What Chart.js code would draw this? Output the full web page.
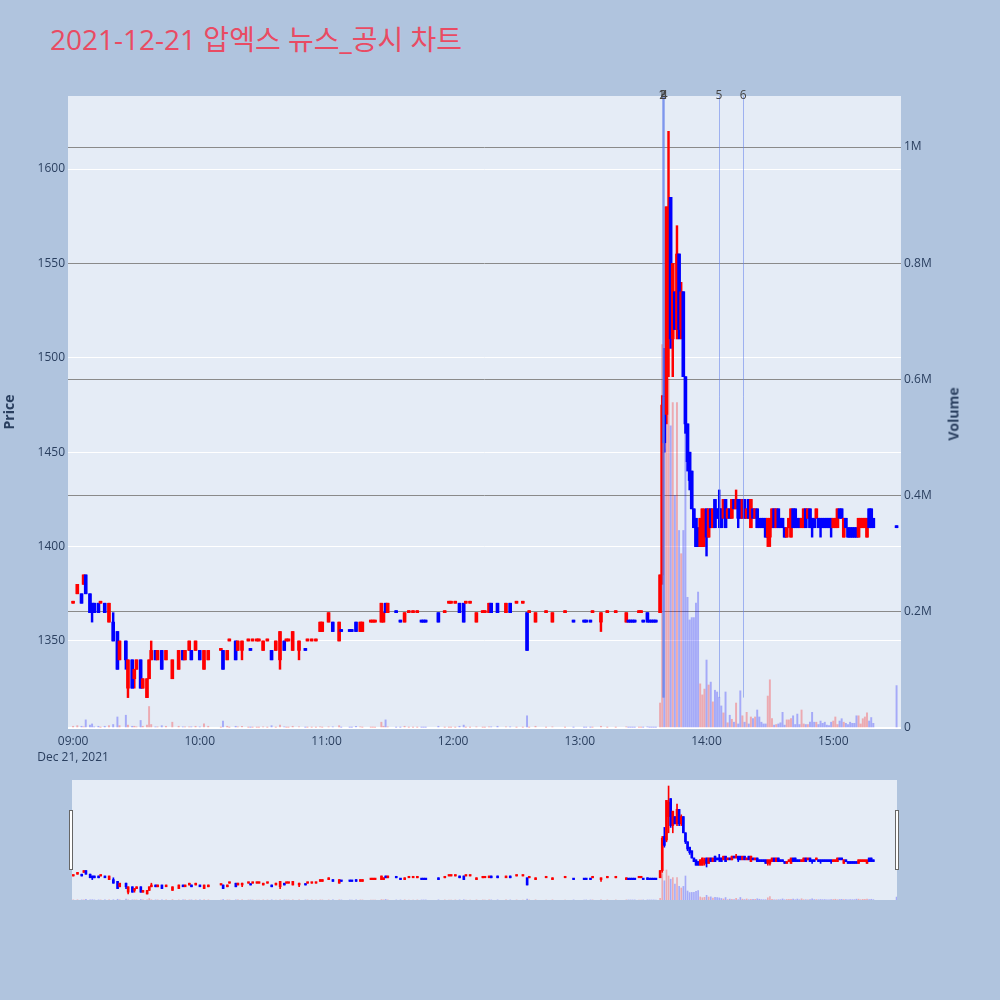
<!DOCTYPE html>
<html>
<head>
<meta charset="utf-8">
<script src="https://cdn.jsdelivr.net/npm/chart.js"></script>
<style>
  body { margin: 0; background: #b0c4de; width: 1000px; height: 1000px; position: relative; overflow: hidden;
         font-family: "Open Sans", "Noto Sans CJK KR", sans-serif; }
  #title { position: absolute; left: 50px; top: 22px; font-size: 28px; line-height: 34px; color: #e94b63; white-space: nowrap; }
  #main { position: absolute; left: 0; top: 0; }
  #slider { position: absolute; left: 72px; top: 780px; }
  .handle { position: absolute; top: 810px; width: 2px; height: 58px; background: #fff; border: 1px solid #666; }
  #volTitle { position: absolute; left: 953px; top: 414px; transform: translate(-50%, -50%) rotate(-90deg);
              font-size: 14px; font-weight: bold; color: #2a3f5f; white-space: nowrap; }
</style>
</head>
<body>
<div id="title">2021-12-21 압엑스 뉴스_공시 차트</div>
<canvas id="main" width="1000" height="770"></canvas>
<canvas id="slider" width="825" height="120"></canvas>
<div class="handle" style="left:69px"></div>
<div class="handle" style="left:895px"></div>
<div id="volTitle">Volume</div>
<script>
// minutes after 09:00
const minutes = [
  0, 2, 4, 5, 6, 8, 9, 10, 12, 13,
  15, 17, 19, 21, 22, 25, 26, 28, 29, 30,
  32, 33, 35, 36, 37, 39, 40, 42, 44, 47,
  50, 52, 53, 55, 56, 58, 60, 62, 64, 70,
  71, 73, 74, 77, 78, 80, 83, 84, 85, 87,
  88, 90, 92, 94, 96, 98, 100, 101, 102, 104,
  107, 110, 111, 113, 115, 117, 118, 121, 123, 126,
  127, 131, 132, 134, 136, 137, 141, 142, 143, 146,
  147, 148, 149, 153, 155, 157, 159, 161, 163, 165,
  166, 167, 173, 176, 178, 179, 181, 183, 185, 186,
  188, 191, 194, 195, 197, 198, 201, 205, 207, 210,
  213, 215, 216, 219, 224, 227, 233, 237, 242, 243,
  245, 246, 250, 253, 257, 262, 263, 264, 265, 266,
  268, 269, 270, 272, 273, 274, 275, 276,
  278, 279, 280, 281, 282, 283, 284, 285, 286, 287,
  288, 289, 290, 291, 292, 293, 294, 295, 296,
  297, 298, 299, 300, 301, 302, 303, 304, 305, 306,
  307, 308, 309, 310, 311, 312, 313, 314, 315, 316,
  317, 318, 319, 320, 321, 322, 323, 324, 325, 326,
  327, 328, 329, 330, 331, 332, 333, 334, 335, 336,
  337, 338, 339, 340, 341, 342, 343, 344, 345, 346,
  347, 348, 349, 350, 351, 352, 353, 354, 355, 356,
  357, 358, 359, 360, 361, 362, 363, 364, 365, 366,
  367, 368, 369, 370, 371, 372, 373, 374, 375, 376,
  377, 378, 379, 390
];

const opens = [
  1370, 1375, 1375, 1380, 1385, 1375, 1370, 1370, 1370, 1370,
  1370, 1360, 1360, 1355, 1340, 1350, 1325, 1340, 1330, 1335,
  1340, 1325, 1320, 1330, 1340, 1345, 1340, 1345, 1340, 1330,
  1335, 1345, 1340, 1345, 1345, 1345, 1345, 1335, 1340, 1345,
  1345, 1340, 1350, 1350, 1345, 1345, 1350, 1345, 1350, 1350,
  1350, 1345, 1350, 1345, 1345, 1340, 1350, 1350, 1350, 1345,
  1345, 1345, 1350, 1350, 1350, 1355, 1355, 1360, 1360, 1350,
  1355, 1355, 1355, 1360, 1355, 1355, 1360, 1360, 1360, 1360,
  1360, 1370, 1365, 1365, 1360, 1360, 1365, 1365, 1365, 1360,
  1360, 1360, 1365, 1365, 1370, 1370, 1370, 1370, 1370, 1370,
  1370, 1360, 1365, 1365, 1365, 1370, 1370, 1365, 1370, 1370,
  1370, 1365, 1365, 1360, 1365, 1360, 1365, 1360, 1360, 1360,
  1360, 1365, 1360, 1365, 1365, 1360, 1360, 1360, 1360, 1360,
  1365, 1365, 1360, 1365, 1360, 1360, 1360, 1360,
  1365, 1385, 1480, 1470, 1535, 1585, 1510, 1535, 1515, 1555,
  1515, 1535, 1490, 1465, 1450, 1440, 1420, 1415, 1410,
  1400, 1400, 1405, 1420, 1405, 1420, 1410, 1425, 1420, 1420,
  1420, 1415, 1425, 1415, 1420, 1415, 1425, 1420, 1425, 1425,
  1415, 1425, 1415, 1425, 1410, 1420, 1415, 1420, 1415, 1415,
  1415, 1415, 1405, 1405, 1410, 1420, 1410, 1420, 1415, 1415,
  1410, 1405, 1410, 1405, 1420, 1420, 1415, 1415, 1410, 1410,
  1420, 1415, 1420, 1415, 1415, 1415, 1415, 1415, 1415, 1415,
  1415, 1415, 1415, 1410, 1410, 1410, 1420, 1420, 1405, 1415,
  1410, 1410, 1410, 1410, 1410, 1405, 1410, 1410, 1410, 1405,
  1420, 1420, 1415, 1410
];

const highs = [
  1370, 1380, 1375, 1385, 1385, 1375, 1370, 1370, 1370, 1370,
  1370, 1370, 1365, 1355, 1350, 1350, 1340, 1340, 1335, 1340,
  1340, 1330, 1330, 1340, 1350, 1345, 1345, 1345, 1345, 1340,
  1345, 1345, 1345, 1350, 1345, 1350, 1345, 1345, 1345, 1345,
  1345, 1345, 1350, 1350, 1350, 1350, 1350, 1345, 1350, 1350,
  1350, 1350, 1350, 1345, 1350, 1355, 1350, 1350, 1350, 1355,
  1350, 1345, 1350, 1350, 1350, 1360, 1360, 1365, 1360, 1360,
  1355, 1355, 1355, 1360, 1360, 1360, 1360, 1360, 1360, 1370,
  1365, 1370, 1370, 1365, 1360, 1365, 1365, 1365, 1365, 1360,
  1360, 1360, 1365, 1365, 1370, 1370, 1370, 1370, 1370, 1370,
  1370, 1365, 1365, 1365, 1370, 1370, 1370, 1370, 1370, 1370,
  1370, 1365, 1365, 1365, 1365, 1365, 1365, 1360, 1360, 1360,
  1360, 1365, 1365, 1365, 1365, 1365, 1360, 1360, 1360, 1360,
  1365, 1365, 1360, 1365, 1360, 1360, 1360, 1360,
  1385, 1480, 1505, 1580, 1620, 1585, 1550, 1535, 1570, 1555,
  1540, 1535, 1490, 1465, 1450, 1440, 1420, 1415, 1410,
  1415, 1420, 1420, 1420, 1420, 1420, 1420, 1425, 1420, 1430,
  1420, 1425, 1425, 1420, 1420, 1425, 1425, 1430, 1425, 1425,
  1425, 1425, 1420, 1425, 1425, 1420, 1420, 1420, 1415, 1415,
  1415, 1415, 1415, 1415, 1420, 1420, 1420, 1420, 1415, 1415,
  1410, 1410, 1415, 1420, 1420, 1420, 1415, 1415, 1415, 1420,
  1420, 1420, 1420, 1415, 1415, 1420, 1415, 1415, 1415, 1415,
  1415, 1415, 1415, 1415, 1415, 1420, 1420, 1420, 1415, 1415,
  1410, 1410, 1410, 1410, 1410, 1415, 1415, 1415, 1415, 1415,
  1420, 1420, 1415, 1410
];

const lows = [
  1370, 1375, 1370, 1380, 1375, 1365, 1360, 1365, 1365, 1370,
  1365, 1360, 1350, 1335, 1340, 1335, 1320, 1325, 1325, 1335,
  1325, 1325, 1320, 1330, 1340, 1340, 1340, 1335, 1340, 1330,
  1335, 1340, 1340, 1345, 1340, 1345, 1340, 1335, 1340, 1345,
  1335, 1340, 1350, 1340, 1345, 1340, 1350, 1345, 1350, 1350,
  1350, 1345, 1350, 1340, 1345, 1335, 1345, 1350, 1350, 1345,
  1340, 1345, 1350, 1350, 1350, 1355, 1355, 1360, 1355, 1350,
  1355, 1355, 1355, 1355, 1355, 1355, 1360, 1360, 1360, 1360,
  1360, 1365, 1365, 1365, 1360, 1360, 1365, 1365, 1365, 1360,
  1360, 1360, 1360, 1365, 1370, 1370, 1370, 1365, 1360, 1370,
  1370, 1360, 1365, 1365, 1365, 1365, 1365, 1365, 1365, 1370,
  1370, 1345, 1365, 1360, 1365, 1360, 1365, 1360, 1360, 1360,
  1360, 1365, 1355, 1365, 1365, 1360, 1360, 1360, 1360, 1360,
  1365, 1365, 1360, 1360, 1360, 1360, 1360, 1360,
  1365, 1380, 1450, 1465, 1490, 1505, 1490, 1515, 1510, 1510,
  1510, 1490, 1460, 1440, 1430, 1420, 1410, 1400, 1400,
  1400, 1400, 1400, 1395, 1405, 1410, 1410, 1410, 1415, 1410,
  1410, 1415, 1410, 1415, 1415, 1415, 1420, 1420, 1410, 1415,
  1415, 1415, 1415, 1415, 1410, 1415, 1415, 1410, 1410, 1410,
  1410, 1405, 1400, 1400, 1410, 1410, 1410, 1410, 1410, 1410,
  1405, 1405, 1410, 1405, 1410, 1410, 1410, 1410, 1410, 1410,
  1410, 1415, 1410, 1405, 1410, 1415, 1410, 1405, 1410, 1410,
  1410, 1410, 1405, 1410, 1410, 1410, 1415, 1415, 1405, 1410,
  1405, 1405, 1405, 1405, 1405, 1405, 1410, 1410, 1410, 1405,
  1410, 1410, 1410, 1410
];

const closes = [
  1370, 1380, 1370, 1385, 1375, 1365, 1365, 1365, 1365, 1370,
  1365, 1370, 1350, 1335, 1350, 1340, 1340, 1325, 1335, 1340,
  1325, 1330, 1330, 1340, 1345, 1340, 1345, 1335, 1345, 1340,
  1345, 1340, 1345, 1350, 1340, 1350, 1340, 1345, 1345, 1345,
  1335, 1345, 1350, 1340, 1350, 1350, 1350, 1345, 1350, 1350,
  1350, 1350, 1350, 1340, 1350, 1355, 1345, 1350, 1350, 1355,
  1350, 1345, 1350, 1350, 1350, 1360, 1360, 1365, 1355, 1360,
  1355, 1355, 1355, 1355, 1360, 1360, 1360, 1360, 1360, 1370,
  1365, 1365, 1370, 1365, 1360, 1365, 1365, 1365, 1365, 1360,
  1360, 1360, 1360, 1365, 1370, 1370, 1370, 1365, 1360, 1370,
  1370, 1365, 1365, 1365, 1370, 1365, 1365, 1370, 1365, 1370,
  1370, 1345, 1365, 1365, 1365, 1365, 1365, 1360, 1360, 1360,
  1360, 1365, 1365, 1365, 1365, 1365, 1360, 1360, 1360, 1360,
  1365, 1365, 1360, 1360, 1360, 1360, 1360, 1360,
  1385, 1475, 1455, 1580, 1575, 1510, 1550, 1515, 1555, 1515,
  1535, 1490, 1465, 1445, 1435, 1420, 1410, 1400, 1400,
  1415, 1420, 1415, 1405, 1420, 1410, 1420, 1410, 1415, 1415,
  1410, 1425, 1410, 1420, 1415, 1425, 1420, 1425, 1415, 1415,
  1425, 1415, 1420, 1415, 1425, 1415, 1420, 1410, 1410, 1410,
  1410, 1405, 1415, 1415, 1420, 1410, 1420, 1410, 1410, 1410,
  1405, 1410, 1415, 1420, 1410, 1410, 1410, 1410, 1415, 1420,
  1410, 1420, 1410, 1410, 1410, 1420, 1410, 1410, 1410, 1410,
  1410, 1410, 1410, 1415, 1415, 1420, 1415, 1415, 1415, 1410,
  1405, 1405, 1405, 1405, 1405, 1415, 1415, 1415, 1415, 1415,
  1410, 1410, 1410, 1410
];

const volumes = [
  3000, 4000, 3000, 2000, 14000, 5000, 7000, 2000, 3000, 1000,
  3000, 4000, 6000, 19000, 4000, 22000, 5000, 3000, 3000, 2000,
  13000, 3000, 5000, 37000, 6000, 2000, 2000, 4000, 3000, 10000,
  3000, 2000, 2000, 2000, 2000, 3000, 2000, 7000, 3000, 1000,
  12000, 3000, 1000, 3000, 2000, 3000, 1000, 1000, 1000, 1000,
  1000, 2000, 1000, 4000, 1000, 5000, 2000, 1000, 1000, 3000,
  2000, 1000, 1000, 1000, 1000, 2000, 1000, 2000, 2000, 4000,
  1000, 1000, 1000, 3000, 2000, 1000, 1000, 1000, 1000, 10000,
  3000, 14000, 2000, 1000, 1000, 3000, 1000, 1000, 1000, 1000,
  1000, 1000, 3000, 1000, 1000, 1000, 1000, 3000, 5000, 1000,
  1000, 2000, 1000, 1000, 2000, 2000, 3000, 2000, 2000, 1000,
  1000, 21000, 1000, 3000, 1000, 2000, 1000, 1000, 1000, 1000,
  1000, 1000, 3000, 1000, 1000, 2000, 1000, 1000, 1000, 1000,
  1000, 1000, 1000, 2000, 1000, 1000, 1000, 1000,
  43000, 660000, 480000, 750000, 600000, 520000, 560000, 400000, 560000, 340000,
  300000, 340000, 600000, 225000, 186000, 190000, 190000, 215000, 234000,
  76000, 57000, 67000, 117000, 74000, 79000, 45000, 65000, 62000, 53000,
  38000, 26000, 62000, 9000, 22000, 15000, 10000, 43000, 7000, 64000,
  21000, 10000, 27000, 7000, 19000, 16000, 19000, 31000, 19000, 10000,
  7000, 7000, 55000, 83000, 16000, 5000, 6000, 7000, 9000, 27000,
  5000, 14000, 14000, 16000, 21000, 6000, 24000, 6000, 31000, 7000,
  6000, 6000, 10000, 27000, 10000, 10000, 6000, 12000, 8000, 10000,
  5000, 4000, 10000, 12000, 19000, 6000, 12000, 16000, 10000, 8000,
  6000, 10000, 8000, 8000, 21000, 21000, 7000, 16000, 19000, 26000,
  12000, 18000, 8000, 73000
];

const timeLabels = ["09:00", "10:00", "11:00", "12:00", "13:00", "14:00", "15:00"];
const timeTicks = [0, 60, 120, 180, 240, 300, 360];
const dateLabel = "Dec 21, 2021";
const priceTicks = [1350, 1400, 1450, 1500, 1550, 1600];
const volumeTicks = [0, 200000, 400000, 600000, 800000, 1000000];
const volumeTickLabels = ["0", "0.2M", "0.4M", "0.6M", "0.8M", "1M"];
const newsTimes = [278.8, 279.2, 279.6, 280.0, 305.9, 317.3];
const newsLabels = ["1", "2", "3", "4", "5", "6"];

const UP = "#ff0000";
const DOWN = "#0000ff";
const UP_VOL = "rgba(255,0,0,0.28)";
const DOWN_VOL = "rgba(0,0,255,0.28)";

// direction of each candle; a doji follows the previous close
const rising = [];
closes.forEach((c, i) => {
  const o = opens[i];
  if (c !== o) rising.push(c > o);
  else if (i === 0) rising.push(true);
  else if (c !== closes[i - 1]) rising.push(c > closes[i - 1]);
  else rising.push(rising[i - 1]);
});

const candleColors = rising.map(r => (r ? UP : DOWN));
const volumeColors = rising.map(r => (r ? UP_VOL : DOWN_VOL));

const bodyData = minutes.map((t, i) => ({ x: t, y: [opens[i], closes[i]] }));
const wickData = minutes.map((t, i) => ({ x: t, y: [lows[i], highs[i]] }));
const volumeData = minutes.map((t, i) => ({ x: t, y: volumes[i] }));

Chart.defaults.font.family = '"Open Sans", "Noto Sans CJK KR", sans-serif';
Chart.defaults.color = "#2a3f5f";

const plotBg = {
  id: "plotBg",
  beforeDraw(chart) {
    const { ctx, chartArea } = chart;
    ctx.save();
    ctx.fillStyle = "#e5ecf6";
    ctx.fillRect(chartArea.left, chartArea.top, chartArea.width, chartArea.height);
    ctx.restore();
  },
};

// news / disclosure markers
const newsLines = {
  id: "newsLines",
  afterDatasetsDraw(chart) {
    const { ctx, chartArea, scales } = chart;
    const yEnd = scales.y.getPixelForValue(Math.min(...lows));
    ctx.save();
    newsTimes.forEach(t => {
      const x = Math.round(scales.x.getPixelForValue(t)) + 0.5;
      ctx.strokeStyle = "rgba(100,130,235,0.55)";
      ctx.lineWidth = 1;
      ctx.beginPath();
      ctx.moveTo(x, chartArea.top);
      ctx.lineTo(x, yEnd);
      ctx.stroke();
    });
    ctx.fillStyle = "#444";
    ctx.font = '12px "Open Sans", sans-serif';
    ctx.textAlign = "center";
    ctx.textBaseline = "middle";
    newsTimes.forEach((t, i) => {
      ctx.fillText(newsLabels[i], scales.x.getPixelForValue(t), chartArea.top);
    });
    ctx.restore();
  },
};

new Chart(document.getElementById("main"), {
  type: "bar",
  data: {
    datasets: [
      { data: bodyData, backgroundColor: candleColors, barThickness: 3, minBarLength: 2, grouped: false, yAxisID: "y" },
      { data: wickData, backgroundColor: candleColors, barThickness: 1.8, minBarLength: 2, grouped: false, yAxisID: "y" },
      { data: volumeData, backgroundColor: volumeColors, barThickness: 1.3, grouped: false, yAxisID: "y2" },
    ],
  },
  options: {
    responsive: false,
    animation: false,
    layout: { padding: { top: 96, right: 30, left: 0, bottom: 0 } },
    plugins: { legend: { display: false }, tooltip: { enabled: false } },
    scales: {
      x: {
        type: "linear",
        min: -2.4,
        max: 392.1,
        offset: false,
        grid: { display: false, drawTicks: false },
        border: { display: false },
        afterBuildTicks: s => { s.ticks = timeTicks.map(v => ({ value: v })); },
        afterFit: s => { s.height = 42; },
        ticks: {
          autoSkip: false,
          maxRotation: 0,
          padding: 5,
          font: { size: 12, lineHeight: 1.35 },
          callback: (v, i) => (i === 0 ? [timeLabels[i], dateLabel] : timeLabels[i]),
        },
      },
      y: {
        position: "left",
        min: 1303.9,
        max: 1638.7,
        grid: { color: "#ffffff", lineWidth: 1, drawTicks: false },
        border: { display: false },
        afterBuildTicks: s => { s.ticks = priceTicks.map(v => ({ value: v })); },
        afterFit: s => { s.width = 68; },
        ticks: { padding: 3, font: { size: 12 }, callback: v => String(v) },
        title: { display: true, text: "Price", font: { size: 14, weight: "bold" }, padding: { top: 2, bottom: 0 } },
      },
      y2: {
        position: "right",
        min: 0,
        max: 1087800,
        grid: {
          color: c => (c.tick.value === 0 ? "#ffffff" : "#8a8a8a"),
          lineWidth: c => (c.tick.value === 0 ? 2 : 1),
          drawTicks: false,
        },
        border: { display: false },
        afterBuildTicks: s => { s.ticks = volumeTicks.map(v => ({ value: v })); },
        afterFit: s => { s.width = 69; },
        ticks: { padding: 3, font: { size: 12 }, callback: (v, i) => volumeTickLabels[i] },
      },
    },
  },
  plugins: [plotBg, newsLines],
});

// range slider preview
const sliderBg = {
  id: "sliderBg",
  beforeDraw(chart) {
    const { ctx, width, height } = chart;
    ctx.save();
    ctx.fillStyle = "#e5ecf6";
    ctx.fillRect(0, 0, width, height);
    ctx.restore();
  },
};

new Chart(document.getElementById("slider"), {
  type: "bar",
  data: {
    datasets: [
      { data: bodyData, backgroundColor: candleColors, barThickness: 2, minBarLength: 1.5, grouped: false, yAxisID: "y" },
      { data: wickData, backgroundColor: candleColors, barThickness: 1, minBarLength: 1, grouped: false, yAxisID: "y" },
      { data: volumeData, backgroundColor: volumeColors, barThickness: 1, grouped: false, yAxisID: "y2" },
    ],
  },
  options: {
    responsive: false,
    animation: false,
    layout: { padding: 0 },
    plugins: { legend: { display: false }, tooltip: { enabled: false } },
    scales: {
      x: { type: "linear", min: -0.6, max: 390.2, offset: false, display: false },
      y: { min: 1303.3, max: 1636.7, display: false },
      y2: { min: 0, max: 3000000, display: false },
    },
  },
  plugins: [sliderBg],
});
</script>
</body>
</html>
